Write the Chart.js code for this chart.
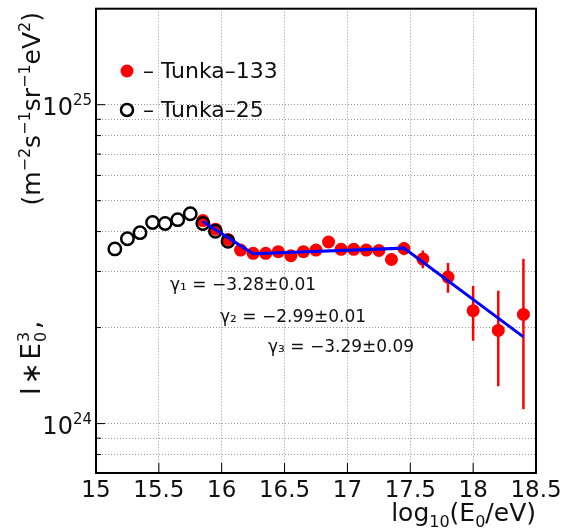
<!DOCTYPE html>
<html>
<head>
<meta charset="utf-8">
<script src="https://cdn.jsdelivr.net/npm/chart.js@4/dist/chart.umd.min.js"></script>
<style>
  html, body { margin: 0; padding: 0; background: #fff; }
  #wrap { width: 567px; height: 530px; }
</style>
</head>
<body>
<div id="wrap"><canvas id="spectrum" width="567" height="530"></canvas></div>
<script>
// flux values are in units of 1e24 m^-2 s^-1 sr^-1 eV^2
var UNIT = 1e24;

// Tunka-25
var energyT25 = [15.15, 15.25, 15.35, 15.45, 15.55, 15.65, 15.75, 15.85, 15.95, 16.05];
var fluxT25 = [3.53, 3.80, 3.97, 4.27, 4.24, 4.36, 4.55, 4.24, 4.01, 3.73];

// Tunka-133
var energyT133 = [15.85, 15.95, 16.05, 16.15, 16.25, 16.35, 16.45, 16.55, 16.65, 16.75, 16.85,
                  16.95, 17.05, 17.15, 17.25, 17.35, 17.45, 17.6, 17.8, 18.0, 18.2, 18.4];
var fluxT133 = [4.33, 4.07, 3.78, 3.50, 3.42, 3.42, 3.46, 3.36, 3.46, 3.50, 3.71,
                3.52, 3.52, 3.50, 3.49, 3.27, 3.54, 3.28, 2.88, 2.26, 1.96, 2.20];
var errT133 = [0.03, 0.03, 0.03, 0.03, 0.03, 0.03, 0.03, 0.03, 0.03, 0.03, 0.04,
               0.04, 0.05, 0.05, 0.06, 0.12, 0.17, 0.21, 0.31, 0.44, 0.65, 1.09];

// broken power-law fit (three slopes)
var fitEnergy = [15.85, 16.25, 17.45, 18.4];
var fitFlux = [4.30, 3.41, 3.55, 1.87];
var fitLabels = ['γ₁ = −3.28±0.01', 'γ₂ = −2.99±0.01', 'γ₃ = −3.29±0.09'];

// axis ticks
var xTicks = [15, 15.5, 16, 16.5, 17, 17.5, 18, 18.5];
var yGrid = [0.7, 0.8, 0.9, 1, 2, 3, 4, 5, 6, 7, 8, 9, 10, 20];
var yLabelled = [1, 10];

var FONT = 'DejaVu Sans';

function pts(xs, ys) {
  return xs.map(function (x, i) { return { x: x, y: ys[i] * UNIT }; });
}

// text pieces with sub/superscripts, laid out from a baseline point
function richWidth(ctx, parts, size) {
  var w = 0;
  parts.forEach(function (p) {
    if (p.stack) {
      ctx.font = Math.round(size * 0.62) + 'px "' + FONT + '"';
      w += Math.max(ctx.measureText(p.stack[0]).width, ctx.measureText(p.stack[1]).width) + (p.gap || 1);
    } else {
      ctx.font = (p.s ? Math.round(size * 0.62) : size) + 'px "' + FONT + '"';
      w += ctx.measureText(p.t).width + (p.gap || 0);
    }
  });
  return w;
}
function drawRich(ctx, parts, x, y, size) {
  var small = Math.round(size * 0.62);
  parts.forEach(function (p) {
    if (p.stack) {
      ctx.font = small + 'px "' + FONT + '"';
      ctx.fillText(p.stack[0], x, y - size * 0.42);
      ctx.fillText(p.stack[1], x, y + size * 0.22);
      x += Math.max(ctx.measureText(p.stack[0]).width, ctx.measureText(p.stack[1]).width) + (p.gap || 1);
      return;
    }
    var dy = 0;
    if (p.s === 'sup') dy = -size * 0.42;
    if (p.s === 'sub') dy = size * 0.22;
    ctx.font = (p.s ? small : size) + 'px "' + FONT + '"';
    ctx.fillText(p.t, x, y + dy);
    x += ctx.measureText(p.t).width + (p.gap || 0);
  });
}

var decorations = {
  id: 'decorations',
  beforeDatasetsDraw: function (chart) {
    // error bars of Tunka-133
    var ctx = chart.ctx, xs = chart.scales.x, ys = chart.scales.y, a = chart.chartArea;
    ctx.save();
    ctx.beginPath();
    ctx.rect(a.left, a.top, a.right - a.left, a.bottom - a.top);
    ctx.clip();
    ctx.strokeStyle = '#ff0000';
    ctx.lineWidth = 2.5;
    energyT133.forEach(function (e, i) {
      var px = xs.getPixelForValue(e);
      ctx.beginPath();
      ctx.moveTo(px, ys.getPixelForValue((fluxT133[i] + errT133[i]) * UNIT));
      ctx.lineTo(px, ys.getPixelForValue((fluxT133[i] - errT133[i]) * UNIT));
      ctx.stroke();
    });
    ctx.restore();
  },
  afterDraw: function (chart) {
    var ctx = chart.ctx, a = chart.chartArea, xs = chart.scales.x, ys = chart.scales.y;
    ctx.save();
    ctx.fillStyle = '#111';
    ctx.strokeStyle = '#000';

    // frame
    ctx.lineWidth = 2;
    ctx.strokeRect(a.left, a.top, a.right - a.left, a.bottom - a.top);

    // inner tick marks
    ctx.lineWidth = 1;
    ctx.beginPath();
    xTicks.forEach(function (v) {
      var px = xs.getPixelForValue(v);
      ctx.moveTo(px, a.bottom); ctx.lineTo(px, a.bottom - 10);
    });
    yGrid.forEach(function (v) {
      var py = ys.getPixelForValue(v * UNIT);
      var len = yLabelled.indexOf(v) >= 0 ? 9 : 5;
      ctx.moveTo(a.left, py); ctx.lineTo(a.left + len, py);
    });
    ctx.stroke();

    // y tick labels 10^n
    ctx.textBaseline = 'alphabetic';
    yLabelled.forEach(function (v) {
      var py = ys.getPixelForValue(v * UNIT);
      var exp = String(Math.round(Math.log10(v * UNIT)));
      var parts = [{ t: '10' }, { t: exp, s: 'sup' }];
      var w = richWidth(ctx, parts, 24);
      drawRich(ctx, parts, 92 - w, py + 10, 24);
    });

    // x axis title
    var xt = [{ t: 'log' }, { t: '10', s: 'sub' }, { t: '(E' }, { t: '0', s: 'sub' }, { t: '/eV)' }];
    var xw = richWidth(ctx, xt, 25);
    drawRich(ctx, xt, a.right - xw, 521, 25);

    // y axis title, rotated
    ctx.save();
    ctx.translate(40, 395);
    ctx.rotate(-Math.PI / 2);
    drawRich(ctx, [{ t: 'I', gap: 3 }, { t: '∗', gap: 3 }, { t: 'E', gap: 1 }, { stack: ['3', '0'], gap: 3 }, { t: ',' }], 0, 0, 26);
    var yt = [{ t: '(m' }, { t: '−2', s: 'sup' }, { t: 's' }, { t: '−1', s: 'sup' },
              { t: 'sr' }, { t: '−1', s: 'sup' }, { t: 'eV' }, { t: '2', s: 'sup' }, { t: ')' }];
    var yw = richWidth(ctx, yt, 25);
    drawRich(ctx, yt, 395 - 12 - yw, 0, 25);
    ctx.restore();

    // legend
    ctx.font = '22px "' + FONT + '"';
    ctx.textBaseline = 'middle';
    ctx.beginPath();
    ctx.arc(127, 71, 6.5, 0, Math.PI * 2);
    ctx.fillStyle = '#ff0000';
    ctx.fill();
    ctx.beginPath();
    ctx.arc(127, 110, 6, 0, Math.PI * 2);
    ctx.lineWidth = 2.5;
    ctx.stroke();
    ctx.fillStyle = '#111';
    ctx.fillText('– Tunka–133', 143, 72);
    ctx.fillText('– Tunka–25', 143, 111);

    // fitted slopes
    ctx.font = '17px "' + FONT + '"';
    ctx.fillText(fitLabels[0], 170, 286);
    ctx.fillText(fitLabels[1], 220, 318);
    ctx.fillText(fitLabels[2], 268, 348);
    ctx.restore();
  }
};

var ctx = document.getElementById('spectrum').getContext('2d');
var gridStyle = { color: 'rgba(0,0,0,0.4)', lineWidth: 1, drawTicks: false };
var chart = new Chart(ctx, {
  type: 'scatter',
  data: {
    datasets: [{
      label: 'fit',
      type: 'line',
      data: pts(fitEnergy, fitFlux),
      borderColor: '#0000ff',
      borderWidth: 3,
      pointRadius: 0,
      fill: false,
      tension: 0,
      order: 0
    }, {
      label: 'Tunka-25',
      data: pts(energyT25, fluxT25),
      pointStyle: 'circle',
      pointRadius: 6.2,
      borderWidth: 2.5,
      borderColor: '#000',
      backgroundColor: 'rgba(0,0,0,0)',
      order: 1
    }, {
      label: 'Tunka-133',
      data: pts(energyT133, fluxT133),
      pointStyle: 'circle',
      pointRadius: 6.5,
      borderWidth: 0,
      backgroundColor: '#ff0000',
      order: 2
    }]
  },
  options: {
    responsive: false,
    animation: false,
    devicePixelRatio: 1,
    layout: { padding: { left: 0, right: 31, top: 6, bottom: 0 } },
    plugins: { legend: { display: false }, tooltip: { enabled: false } },
    scales: {
      x: {
        type: 'linear',
        min: 15,
        max: 18.5,
        grid: gridStyle,
        border: { display: false, dash: [1, 2] },
        afterBuildTicks: function (s) { s.ticks = xTicks.map(function (v) { return { value: v }; }); },
        afterFit: function (s) { s.height = 57; },
        ticks: {
          color: '#111',
          padding: 4,
          maxRotation: 0,
          autoSkip: false,
          font: { family: FONT, size: 23 },
          callback: function (v) { return String(v); }
        }
      },
      y: {
        type: 'logarithmic',
        min: 0.7 * UNIT,
        max: 20 * UNIT,
        grid: gridStyle,
        border: { display: false, dash: [1, 2] },
        afterBuildTicks: function (s) { s.ticks = yGrid.map(function (v) { return { value: v * UNIT }; }); },
        afterFit: function (s) { s.width = 96; },
        ticks: { display: false }
      }
    }
  },
  plugins: [decorations]
});
</script>
</body>
</html>
